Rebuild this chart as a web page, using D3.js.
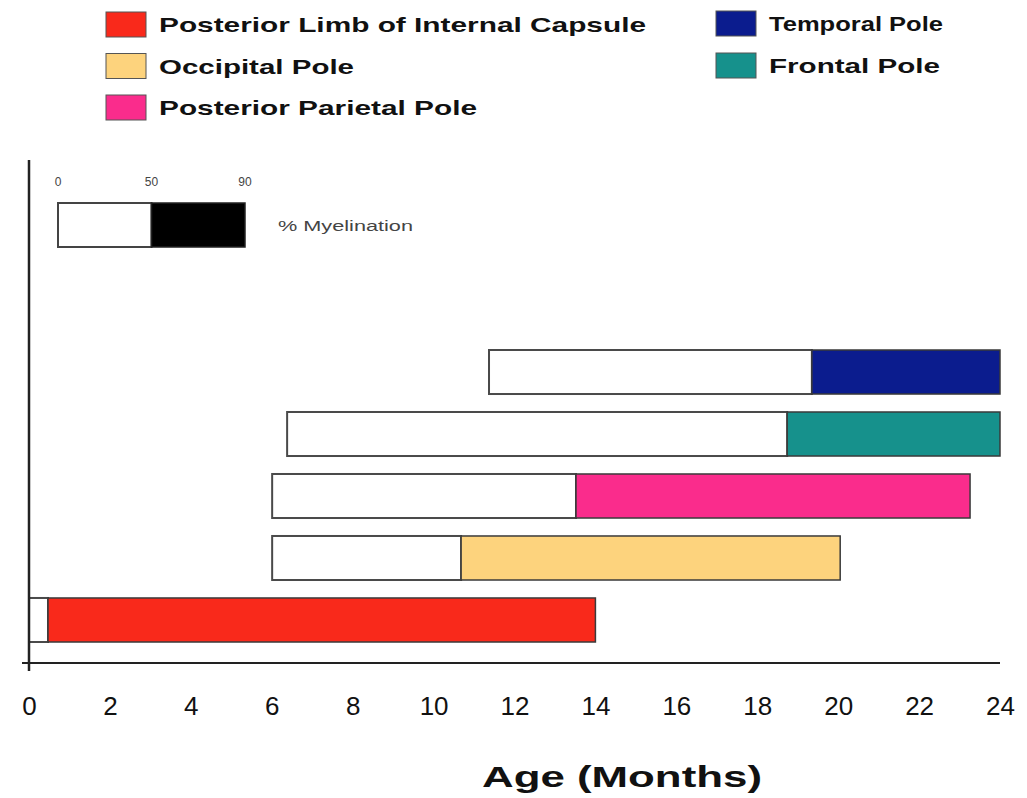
<!DOCTYPE html>
<html>
<head>
<meta charset="utf-8">
<script src="https://cdn.jsdelivr.net/npm/d3@7"></script>
<style>
  html, body { margin: 0; padding: 0; background: #fff; }
  svg { display: block; }
</style>
</head>
<body>
<script>
// Regions, top row first
const regions = ["Temporal Pole", "Frontal Pole", "Posterior Parietal Pole", "Occipital Pole", "Posterior Limb of Internal Capsule"];
// Age (months) at which myelination is first seen, reaches 50%, and reaches 90%
const onsetMonths = [11.37, 6.38, 6.01, 6.01, 0];
const halfMonths = [19.35, 18.74, 13.52, 10.68, 0.47];
const ninetyMonths = [24, 24, 23.26, 20.05, 14];
const regionColors = ["#0b1c8e", "#16918c", "#fa2c8c", "#fdd37d", "#f9291b"];

// Legend layout: two columns
const legendLeft = ["Posterior Limb of Internal Capsule", "Occipital Pole", "Posterior Parietal Pole"];
const legendRight = ["Temporal Pole", "Frontal Pole"];

// Axis ticks
const monthTicks = [0, 2, 4, 6, 8, 10, 12, 14, 16, 18, 20, 22, 24];
const myelinTicks = ["0", "50", "90"];

const W = 1027, H = 798;
const svg = d3.select("body").append("svg").attr("width", W).attr("height", H);
const font = "'Liberation Sans', Arial, sans-serif";

const x = d3.scaleLinear().domain([0, 24]).range([29, 1000]);
const y = d3.scaleBand().domain(regions).range([350, 642]).paddingInner(0.29).paddingOuter(0);
const color = d3.scaleOrdinal().domain(regions).range(regionColors);

const rows = regions.map((r, i) => ({ region: r, onset: onsetMonths[i], half: halfMonths[i], end: ninetyMonths[i] }));

// Bars: white span (onset to 50%) then coloured span (50% to 90%)
const g = svg.append("g");
g.selectAll("rect.pre").data(rows).join("rect")
  .attr("class", "pre")
  .attr("x", d => x(d.onset)).attr("y", d => y(d.region))
  .attr("width", d => x(d.half) - x(d.onset)).attr("height", y.bandwidth())
  .attr("fill", "#fff").attr("stroke", "#4a4a4a").attr("stroke-width", 2);
g.selectAll("rect.post").data(rows).join("rect")
  .attr("class", "post")
  .attr("x", d => x(d.half)).attr("y", d => y(d.region))
  .attr("width", d => x(d.end) - x(d.half)).attr("height", y.bandwidth())
  .attr("fill", d => color(d.region)).attr("stroke", "#3a3a3a").attr("stroke-width", 1.5);

// Axes
const axisY = 663;
svg.append("line").attr("x1", 22).attr("x2", x(24)).attr("y1", axisY).attr("y2", axisY)
  .attr("stroke", "#222").attr("stroke-width", 2);
svg.append("line").attr("x1", x(0)).attr("x2", x(0)).attr("y1", 160).attr("y2", 671)
  .attr("stroke", "#222").attr("stroke-width", 2.5);

const xAxis = d3.axisBottom(x).tickValues(monthTicks).tickSize(0).tickPadding(0).tickFormat(d3.format("d"));
const ax = svg.append("g").attr("transform", `translate(0,${axisY})`).call(xAxis);
ax.select(".domain").remove();
ax.selectAll("text")
  .attr("y", 52).attr("dy", 0)
  .attr("font-family", font)
  .attr("font-size", 26).attr("fill", "#111");

svg.append("text").attr("x", 622).attr("y", 787).attr("text-anchor", "middle")
  .attr("font-family", font).attr("font-weight", "bold")
  .attr("font-size", 30).attr("fill", "#111")
  .attr("textLength", 280).attr("lengthAdjust", "spacingAndGlyphs")
  .text("Age (Months)");

// Legend
const legendWidths = {
  "Posterior Limb of Internal Capsule": 487,
  "Occipital Pole": 195,
  "Posterior Parietal Pole": 318,
  "Temporal Pole": 174,
  "Frontal Pole": 171
};
function legendColumn(items, x0, y0, gap) {
  const lg = svg.append("g").attr("transform", `translate(${x0},${y0})`);
  const it = lg.selectAll("g").data(items).join("g").attr("transform", (d, i) => `translate(0,${i * gap})`);
  it.append("rect").attr("width", 40).attr("height", 25)
    .attr("fill", d => color(d)).attr("stroke", "#555").attr("stroke-width", 1);
  it.append("text").attr("x", 53).attr("y", 20)
    .attr("font-family", font).attr("font-weight", "bold").attr("font-size", 21)
    .attr("textLength", d => legendWidths[d]).attr("lengthAdjust", "spacingAndGlyphs")
    .attr("fill", "#111").text(d => d);
}
legendColumn(legendLeft, 106, 12, 41.5);
legendColumn(legendRight, 716, 11, 42);

// Myelination key
const key = d3.scalePoint().domain(myelinTicks).range([58, 245]);
const keyG = svg.append("g");
keyG.selectAll("text").data(myelinTicks).join("text")
  .attr("x", d => key(d)).attr("y", 186).attr("text-anchor", "middle")
  .attr("font-family", font).attr("font-size", 12).attr("fill", "#444").text(d => d);
keyG.append("rect").attr("x", key("0")).attr("y", 203).attr("width", key("50") - key("0")).attr("height", 44)
  .attr("fill", "#fff").attr("stroke", "#444").attr("stroke-width", 2);
keyG.append("rect").attr("x", key("50")).attr("y", 203).attr("width", key("90") - key("50")).attr("height", 44)
  .attr("fill", "#000").attr("stroke", "#222").attr("stroke-width", 1.5);
keyG.append("text").attr("x", 278).attr("y", 231)
  .attr("font-family", font).attr("font-size", 14).attr("fill", "#444")
  .attr("textLength", 135).attr("lengthAdjust", "spacingAndGlyphs")
  .text("% Myelination");
</script>
</body>
</html>
